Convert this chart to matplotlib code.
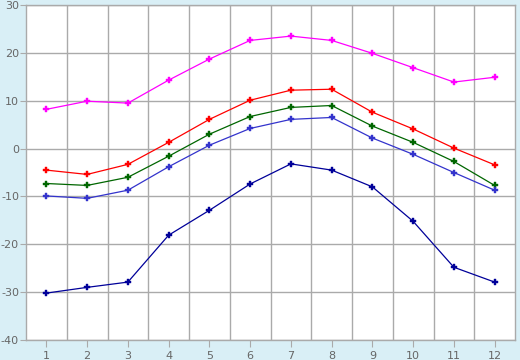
import matplotlib
matplotlib.use("Agg")
import matplotlib.pyplot as plt
import numpy as np

# monthly values
months = [1, 2, 3, 4, 5, 6, 7, 8, 9, 10, 11, 12]
series_max = [8.2, 9.9, 9.5, 14.3, 18.7, 22.6, 23.5, 22.6, 19.9, 16.9, 13.9, 14.9]
series_hi = [-4.5, -5.4, -3.3, 1.3, 6.1, 10.1, 12.2, 12.4, 7.6, 4.1, 0.1, -3.4]
series_mean = [-7.3, -7.7, -6.0, -1.6, 3.0, 6.7, 8.6, 9.0, 4.7, 1.3, -2.7, -7.7]
series_lo = [-9.9, -10.4, -8.7, -3.8, 0.7, 4.2, 6.1, 6.5, 2.2, -1.2, -5.0, -8.7]
series_min = [-30.2, -29.0, -27.9, -18.1, -12.9, -7.4, -3.2, -4.5, -8.0, -15.2, -24.8, -27.9]

plt.rcParams["axes.unicode_minus"] = False

bg = "#d9eff6"
grid_c = "#aaaaaa"
text_c = "#666666"

fig = plt.figure(figsize=(5.2, 3.6), dpi=100, facecolor=bg)
ax = fig.add_axes([26/520, 1-340/360, 489/520, 335/360])
ax.set_facecolor("white")

styles = [(series_max, "#ff00ff"), (series_hi, "#ff0000"), (series_mean, "#006600"),
          (series_lo, "#3333cc"), (series_min, "#000099")]
for vals, col in styles:
    ax.plot(months, vals, color=col, lw=0.9, marker="P", ms=4.5, mew=0.3, mec=col, zorder=3)

ax.set_xlim(0.5, 12.5)
ax.set_ylim(-40, 30)
ax.set_xticks(months)
ax.set_xticks(np.arange(1.5, 12, 1), minor=True)
ax.set_yticks(range(-40, 31, 10))
ax.grid(False)
ax.grid(True, which="minor", axis="x", color=grid_c, lw=1)
ax.grid(True, which="major", axis="y", color=grid_c, lw=1)
ax.set_axisbelow(True)

ax.tick_params(axis="x", which="major", length=5, color=grid_c, labelcolor=text_c,
               labelsize=8, pad=3)
ax.tick_params(axis="x", which="minor", length=0)
ax.tick_params(axis="y", length=4, color=grid_c, labelcolor=text_c, labelsize=8, pad=1)
for s in ax.spines.values():
    s.set_color(grid_c)
    s.set_linewidth(1)

fig.savefig("out.png", dpi=100, facecolor=bg)
